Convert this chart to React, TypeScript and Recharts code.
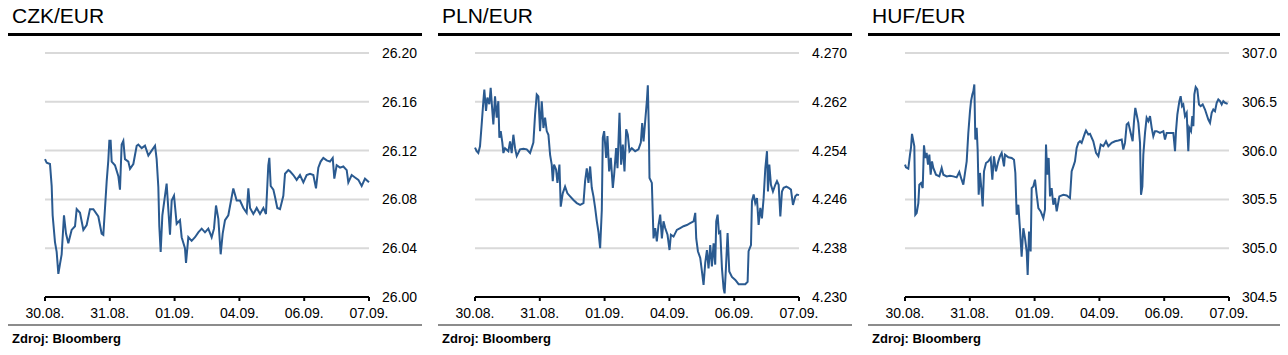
import { LineChart, Line, XAxis, YAxis, CartesianGrid } from "recharts";

// x = trading day offset (0 = 30.08., 5 = 07.09.), y = rate
const CZK: [number, number][] = [
  [0.0, 26.113], [0.026, 26.11], [0.077, 26.109], [0.103, 26.091], [0.118, 26.067],
  [0.154, 26.045], [0.18, 26.037], [0.206, 26.019], [0.231, 26.027], [0.257, 26.035],
  [0.293, 26.067], [0.324, 26.052], [0.36, 26.044], [0.411, 26.055], [0.463, 26.058],
  [0.489, 26.072], [0.54, 26.069], [0.592, 26.055], [0.643, 26.059], [0.694, 26.072],
  [0.746, 26.072], [0.823, 26.066], [0.874, 26.052], [0.9, 26.051], [0.926, 26.073],
  [0.952, 26.095], [0.977, 26.112], [0.993, 26.128], [1.013, 26.128], [1.029, 26.111],
  [1.08, 26.108], [1.132, 26.099], [1.157, 26.088], [1.183, 26.125], [1.209, 26.128],
  [1.234, 26.113], [1.286, 26.111], [1.312, 26.105], [1.363, 26.109], [1.415, 26.124],
  [1.44, 26.125], [1.492, 26.122], [1.543, 26.124], [1.595, 26.116], [1.646, 26.12],
  [1.698, 26.124], [1.723, 26.113], [1.749, 26.09], [1.764, 26.058], [1.785, 26.037],
  [1.811, 26.067], [1.852, 26.083], [1.877, 26.093], [1.903, 26.072], [1.929, 26.051],
  [1.955, 26.079], [1.991, 26.083], [2.032, 26.06], [2.083, 26.063], [2.109, 26.049],
  [2.16, 26.04], [2.176, 26.028], [2.212, 26.049], [2.263, 26.046], [2.315, 26.049],
  [2.366, 26.053], [2.418, 26.056], [2.469, 26.053], [2.52, 26.056], [2.572, 26.049],
  [2.608, 26.056], [2.639, 26.075], [2.675, 26.064], [2.711, 26.035], [2.742, 26.052],
  [2.778, 26.063], [2.829, 26.067], [2.881, 26.082], [2.906, 26.089], [2.958, 26.079],
  [3.009, 26.079], [3.061, 26.073], [3.112, 26.069], [3.138, 26.089], [3.164, 26.073],
  [3.215, 26.068], [3.267, 26.073], [3.318, 26.068], [3.37, 26.073], [3.41, 26.068],
  [3.446, 26.108], [3.462, 26.114], [3.483, 26.091], [3.524, 26.088], [3.55, 26.082],
  [3.585, 26.073], [3.627, 26.072], [3.678, 26.083], [3.704, 26.101], [3.755, 26.104],
  [3.781, 26.103], [3.832, 26.1], [3.884, 26.096], [3.935, 26.1], [3.987, 26.094],
  [4.038, 26.1], [4.09, 26.101], [4.141, 26.1], [4.182, 26.089], [4.218, 26.106],
  [4.254, 26.111], [4.295, 26.114], [4.347, 26.112], [4.398, 26.111], [4.44, 26.114],
  [4.465, 26.097], [4.501, 26.108], [4.553, 26.106], [4.604, 26.107], [4.656, 26.104],
  [4.681, 26.094], [4.733, 26.1], [4.784, 26.098], [4.836, 26.096], [4.887, 26.091],
  [4.938, 26.097], [5.0, 26.094],
];

const PLN: [number, number][] = [
  [0.0, 4.2545], [0.026, 4.2539], [0.051, 4.2536], [0.077, 4.2547], [0.103, 4.2583],
  [0.129, 4.2621], [0.144, 4.264], [0.17, 4.2605], [0.191, 4.2627], [0.221, 4.2616],
  [0.242, 4.2643], [0.262, 4.2613], [0.283, 4.2583], [0.309, 4.2629], [0.335, 4.2594],
  [0.36, 4.2621], [0.376, 4.2561], [0.397, 4.2572], [0.422, 4.2553], [0.438, 4.2536],
  [0.463, 4.2544], [0.515, 4.2539], [0.541, 4.2555], [0.566, 4.2536], [0.592, 4.2566],
  [0.618, 4.2544], [0.644, 4.2531], [0.695, 4.2542], [0.747, 4.2543], [0.798, 4.2542],
  [0.85, 4.2536], [0.901, 4.2553], [0.927, 4.2599], [0.953, 4.2632], [0.978, 4.2629],
  [1.004, 4.2572], [1.03, 4.2621], [1.056, 4.2577], [1.081, 4.2594], [1.107, 4.2572],
  [1.133, 4.2566], [1.159, 4.2533], [1.184, 4.2517], [1.2, 4.249], [1.22, 4.2517],
  [1.251, 4.2509], [1.272, 4.2487], [1.303, 4.2517], [1.323, 4.2448], [1.354, 4.247],
  [1.39, 4.2481], [1.426, 4.247], [1.468, 4.2465], [1.519, 4.2459], [1.571, 4.2454],
  [1.622, 4.2451], [1.674, 4.2454], [1.699, 4.249], [1.725, 4.2511], [1.751, 4.2487],
  [1.777, 4.2514], [1.802, 4.2479], [1.828, 4.2465], [1.854, 4.2446], [1.88, 4.2424],
  [1.905, 4.2407], [1.931, 4.238], [1.957, 4.2443], [1.972, 4.2561], [1.993, 4.2572],
  [2.024, 4.2528], [2.044, 4.2564], [2.07, 4.2506], [2.096, 4.2528], [2.127, 4.2479],
  [2.147, 4.25], [2.178, 4.2544], [2.199, 4.2511], [2.23, 4.2602], [2.255, 4.2517],
  [2.281, 4.255], [2.307, 4.2506], [2.333, 4.2575], [2.358, 4.2566], [2.384, 4.2539],
  [2.42, 4.2544], [2.472, 4.2539], [2.523, 4.2542], [2.559, 4.2553], [2.58, 4.2585],
  [2.601, 4.2555], [2.626, 4.2588], [2.652, 4.2621], [2.667, 4.2647], [2.683, 4.2572],
  [2.693, 4.2495], [2.729, 4.2487], [2.755, 4.2396], [2.781, 4.2413], [2.806, 4.2391],
  [2.832, 4.2418], [2.858, 4.2435], [2.884, 4.2396], [2.909, 4.2424], [2.935, 4.2413],
  [2.971, 4.2402], [3.002, 4.2377], [3.023, 4.2402], [3.064, 4.2399], [3.115, 4.241],
  [3.167, 4.2413], [3.218, 4.2416], [3.27, 4.2418], [3.321, 4.2421], [3.373, 4.2424],
  [3.399, 4.2438], [3.414, 4.2396], [3.44, 4.2375], [3.476, 4.2364], [3.502, 4.2342],
  [3.527, 4.232], [3.553, 4.2356], [3.579, 4.2377], [3.604, 4.2347], [3.63, 4.2385],
  [3.656, 4.235], [3.682, 4.2388], [3.707, 4.2353], [3.723, 4.2424], [3.744, 4.2435],
  [3.764, 4.2405], [3.785, 4.2407], [3.811, 4.2347], [3.836, 4.2314], [3.852, 4.2306],
  [3.872, 4.2347], [3.898, 4.2405], [3.924, 4.2342], [3.965, 4.2333], [4.017, 4.2328],
  [4.068, 4.2321], [4.12, 4.2321], [4.171, 4.2321], [4.207, 4.2325], [4.222, 4.2375],
  [4.259, 4.2385], [4.274, 4.2457], [4.3, 4.2468], [4.325, 4.2454], [4.351, 4.2462],
  [4.377, 4.2418], [4.403, 4.2446], [4.428, 4.2429], [4.454, 4.2462], [4.48, 4.2511],
  [4.506, 4.2539], [4.521, 4.2473], [4.542, 4.2517], [4.567, 4.2484], [4.598, 4.2473],
  [4.634, 4.2484], [4.66, 4.249], [4.686, 4.2484], [4.712, 4.2432], [4.737, 4.2473],
  [4.763, 4.2479], [4.804, 4.2481], [4.84, 4.2479], [4.876, 4.2476], [4.907, 4.2451],
  [4.943, 4.2465], [4.969, 4.2468], [5.0, 4.2467],
];

const HUF: [number, number][] = [
  [0.0, 305.856], [0.015, 305.829], [0.051, 305.815], [0.077, 305.959], [0.093, 306.034],
  [0.108, 306.171], [0.129, 306.096], [0.144, 306.044], [0.159, 305.342], [0.18, 305.359],
  [0.206, 305.462], [0.221, 305.651], [0.247, 305.668], [0.273, 305.616], [0.293, 306.055],
  [0.314, 305.925], [0.334, 305.976], [0.355, 305.856], [0.376, 305.959], [0.396, 305.753],
  [0.417, 305.89], [0.437, 305.822], [0.478, 305.753], [0.53, 305.736], [0.566, 305.822],
  [0.592, 305.753], [0.643, 305.736], [0.694, 305.743], [0.746, 305.736], [0.797, 305.726],
  [0.838, 305.781], [0.874, 305.702], [0.9, 305.651], [0.926, 305.771], [0.952, 305.89],
  [0.977, 306.181], [1.003, 306.404], [1.019, 306.507], [1.039, 306.575], [1.055, 306.61],
  [1.07, 306.678], [1.085, 306.113], [1.106, 306.233], [1.121, 306.01], [1.137, 305.548],
  [1.157, 305.771], [1.178, 305.616], [1.199, 305.428], [1.219, 305.788], [1.25, 305.873],
  [1.286, 305.89], [1.322, 305.925], [1.348, 305.702], [1.373, 305.942], [1.404, 305.788],
  [1.44, 305.89], [1.466, 305.942], [1.492, 305.976], [1.528, 305.839], [1.543, 305.959],
  [1.595, 305.932], [1.646, 305.925], [1.682, 305.907], [1.703, 305.771], [1.723, 305.342],
  [1.749, 305.445], [1.775, 305.188], [1.8, 304.914], [1.826, 305.205], [1.852, 305.103],
  [1.878, 304.966], [1.893, 304.726], [1.914, 305.171], [1.939, 304.966], [1.955, 305.616],
  [1.98, 305.633], [2.006, 305.702], [2.032, 305.548], [2.058, 305.411], [2.094, 305.377],
  [2.135, 305.308], [2.16, 305.394], [2.176, 306.062], [2.196, 305.753], [2.217, 305.925],
  [2.238, 305.531], [2.263, 305.616], [2.289, 305.445], [2.315, 305.514], [2.341, 305.377],
  [2.382, 305.531], [2.443, 305.548], [2.495, 305.541], [2.546, 305.514], [2.572, 305.788],
  [2.598, 305.839], [2.623, 305.89], [2.649, 306.027], [2.675, 306.079], [2.701, 306.096],
  [2.726, 306.079], [2.752, 306.13], [2.778, 306.181], [2.793, 306.205], [2.829, 306.164],
  [2.855, 306.171], [2.906, 306.096], [2.948, 305.976], [2.984, 305.942], [3.02, 306.062],
  [3.061, 306.045], [3.102, 306.096], [3.138, 306.045], [3.189, 306.079], [3.241, 306.096],
  [3.292, 306.103], [3.344, 306.113], [3.369, 306.01], [3.395, 306.079], [3.421, 306.267],
  [3.447, 306.284], [3.483, 306.181], [3.513, 306.096], [3.534, 306.301], [3.554, 306.438],
  [3.575, 306.37], [3.601, 306.284], [3.627, 306.079], [3.642, 305.548], [3.663, 305.633],
  [3.678, 305.959], [3.704, 306.181], [3.729, 306.336], [3.755, 306.301], [3.781, 306.353],
  [3.807, 306.233], [3.832, 306.147], [3.858, 306.199], [3.884, 306.199], [3.935, 306.181],
  [3.987, 306.199], [4.012, 306.113], [4.038, 306.181], [4.09, 306.181], [4.141, 306.181],
  [4.167, 305.993], [4.182, 306.199], [4.203, 306.37], [4.234, 306.507], [4.254, 306.558],
  [4.275, 306.455], [4.295, 306.473], [4.321, 306.353], [4.347, 306.387], [4.372, 305.993],
  [4.388, 306.233], [4.414, 306.199], [4.434, 306.353], [4.45, 306.25], [4.465, 306.575],
  [4.486, 306.651], [4.511, 306.627], [4.537, 306.473], [4.563, 306.455], [4.594, 306.473],
  [4.63, 306.421], [4.655, 306.37], [4.681, 306.318], [4.707, 306.284], [4.733, 306.387],
  [4.758, 306.421], [4.784, 306.404], [4.81, 306.49], [4.835, 306.524], [4.861, 306.507],
  [4.887, 306.473], [4.912, 306.507], [4.938, 306.49], [4.979, 306.479],
];

const DAY_LABELS = ["30.08.", "31.08.", "01.09.", "04.09.", "06.09.", "07.09."];
const DAY_TICKS = [0, 1, 2, 3, 4, 5];

const CZK_TICKS = [26.0, 26.04, 26.08, 26.12, 26.16, 26.2];
const PLN_TICKS = [4.23, 4.238, 4.246, 4.254, 4.262, 4.27];
const HUF_TICKS = [304.5, 305.0, 305.5, 306.0, 306.5, 307.0];

const FONT = '"Liberation Sans", Arial, Helvetica, sans-serif';
const LINE_COLOR = "#2a5a90";

type PanelProps = {
  title: string;
  series: [number, number][];
  yTicks: number[];
  decimals: number;
};

function Panel({ title, series, yTicks, decimals }: PanelProps) {
  const rows = series.map(([t, v]) => ({ t, v }));
  return (
    <div style={{ width: 414 }}>
      <div
        style={{
          height: 25,
          lineHeight: "15px",
          fontSize: 21,
          paddingLeft: 4,
          borderBottom: "3px solid #000",
          color: "#000",
        }}
      >
        {title}
      </div>
      <LineChart width={414} height={288} data={rows} margin={{ top: 17, right: 0, left: 37, bottom: 0 }}>
        <CartesianGrid vertical={false} stroke="#d9d9d9" strokeWidth={2} />
        <XAxis
          dataKey="t"
          type="number"
          domain={[0, 5]}
          ticks={DAY_TICKS}
          tickFormatter={(i: number) => DAY_LABELS[i]}
          height={27}
          tickSize={4}
          tickMargin={7}
          axisLine={{ stroke: "#000", strokeWidth: 2 }}
          tickLine={{ stroke: "#000", strokeWidth: 2 }}
          tick={{ fontSize: 14, fill: "#000" }}
          interval={0}
        />
        <YAxis
          orientation="right"
          width={53}
          domain={[yTicks[0], yTicks[yTicks.length - 1]]}
          ticks={yTicks}
          tickFormatter={(v: number) => v.toFixed(decimals)}
          axisLine={false}
          tickLine={false}
          tickMargin={7}
          tick={{ fontSize: 14, fill: "#000" }}
          interval={0}
        />
        <Line
          type="linear"
          dataKey="v"
          stroke={LINE_COLOR}
          strokeWidth={2}
          dot={false}
          isAnimationActive={false}
        />
      </LineChart>
      <div
        style={{
          borderTop: "2px solid #8c8c8c",
          paddingTop: 3,
          paddingLeft: 4,
          lineHeight: "20px",
          fontSize: 13,
          fontWeight: "bold",
          color: "#000",
        }}
      >
        Zdroj: Bloomberg
      </div>
    </div>
  );
}

export default function App() {
  return (
    <div style={{ display: "flex", gap: 16, width: 1272, fontFamily: FONT }}>
      <Panel title="CZK/EUR" series={CZK} yTicks={CZK_TICKS} decimals={2} />
      <Panel title="PLN/EUR" series={PLN} yTicks={PLN_TICKS} decimals={3} />
      <Panel title="HUF/EUR" series={HUF} yTicks={HUF_TICKS} decimals={1} />
    </div>
  );
}
